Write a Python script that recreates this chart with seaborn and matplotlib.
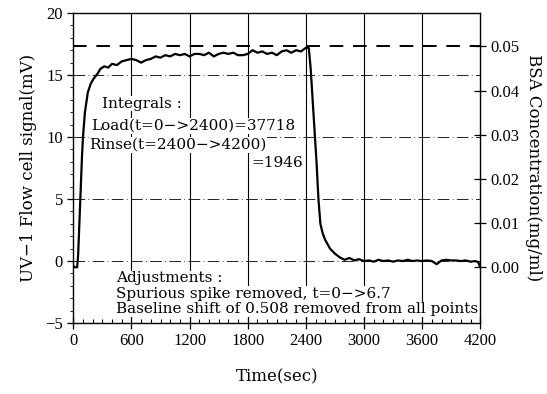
import matplotlib
matplotlib.use("Agg")
import matplotlib.pyplot as plt
import seaborn as sns
import pandas as pd
import numpy as np
from matplotlib.ticker import MultipleLocator, FormatStrFormatter

sns.set_theme(style="white")
plt.rcParams['font.family'] = ['Liberation Serif', 'DejaVu Serif']
plt.rcParams['text.color'] = 'black'
plt.rcParams['axes.labelcolor'] = 'black'
plt.rcParams['xtick.color'] = 'black'
plt.rcParams['ytick.color'] = 'black'

time_s = [0, 20, 40, 50, 60, 70, 80, 90, 100, 120, 150, 180, 210, 250, 280, 320, 360, 400,
          450, 500, 550, 600, 650, 700, 750, 800, 850, 900, 950, 1000, 1050, 1100, 1150,
          1200, 1250, 1300, 1350, 1400, 1450, 1500, 1550, 1600, 1650, 1700, 1750, 1800,
          1850, 1900, 1950, 2000, 2050, 2100, 2150, 2200, 2250, 2300, 2350, 2400, 2430,
          2450, 2470, 2490, 2510, 2530, 2550, 2575, 2600, 2650, 2700, 2750, 2800, 2850,
          2900, 2950, 3000, 3050, 3100, 3150, 3200, 3250, 3300, 3350, 3400, 3450, 3500,
          3550, 3600, 3650, 3700, 3750, 3800, 3850, 3900, 3950, 4000, 4050, 4100, 4150,
          4180, 4200]
signal_mv = [-0.4, -0.5, -0.5, 0.5, 2.5, 4.5, 6.5, 8.5, 10.0, 12.0, 13.6, 14.3, 14.7, 15.1,
             15.5, 15.7, 15.6, 15.9, 15.8, 16.1, 16.2, 16.3, 16.2, 16.0, 16.2, 16.3, 16.5,
             16.4, 16.6, 16.5, 16.7, 16.6, 16.7, 16.5, 16.7, 16.7, 16.6, 16.8, 16.5, 16.7,
             16.8, 16.7, 16.8, 16.6, 16.6, 16.7, 17.0, 16.8, 16.9, 16.7, 16.8, 16.6, 16.9,
             17.0, 16.8, 17.0, 16.9, 17.2, 17.2, 15.5, 13.0, 10.5, 8.0, 5.0, 3.0, 2.2, 1.7,
             1.0, 0.6, 0.3, 0.1, 0.25, 0.05, 0.15, 0.0, 0.05, -0.05, 0.1, 0.0, 0.05, -0.05,
             0.05, 0.0, 0.1, 0.0, 0.05, 0.0, 0.05, 0.0, -0.25, 0.05, 0.1, 0.05, 0.05, 0.0,
             0.05, -0.05, 0.0, -0.1, -0.5]
full_load_mv = 17.3
conc_zero_mv = -0.5
conc_full = 0.05
x_ticks = [0, 600, 1200, 1800, 2400, 3000, 3600, 4200]
y_ticks = [-5, 0, 5, 10, 15, 20]
conc_ticks = [0.00, 0.01, 0.02, 0.03, 0.04, 0.05]

df = pd.DataFrame({"t": time_s, "mv": signal_mv})

fig = plt.figure(figsize=(5.47, 3.94), dpi=100)
ax = fig.add_axes([0.134, 0.180, 0.744, 0.787])
ax.set_facecolor("white")

# grid lines
for yv in [0, 5, 10, 15]:
    ax.axhline(yv, color="black", lw=0.6, ls=(0, (14, 4, 1, 4)), zorder=1)
for xv in x_ticks[1:-1]:
    ax.axvline(xv, color="black", lw=0.8, zorder=1)

ax.axhline(full_load_mv, color="black", lw=1.4, ls=(0, (7, 5)), zorder=2)

sns.lineplot(data=df, x="t", y="mv", ax=ax, color="black", lw=1.6, zorder=3)

ax.set_xlim(0, 4200)
ax.set_ylim(-5, 20)
ax.set_xticks(x_ticks)
ax.set_yticks(y_ticks)
ax.xaxis.set_minor_locator(MultipleLocator(100))
ax.yaxis.set_minor_locator(MultipleLocator(1))
ax.tick_params(axis="x", which="major", direction="inout", length=8, width=0.9,
               labelsize=12, pad=3, bottom=True)
ax.tick_params(axis="x", which="minor", direction="in", length=3, width=0.8, bottom=True)
ax.tick_params(axis="y", which="major", direction="out", length=4, width=0.9,
               labelsize=12, left=True)
ax.tick_params(axis="y", which="minor", direction="out", length=2, width=0.6, left=True)
for s in ax.spines.values():
    s.set_color("black")
    s.set_linewidth(1.0)

lab_font = dict(fontsize=12, family=["DejaVu Serif"], color="black")
ax.set_xlabel("Time(sec)", labelpad=14, **lab_font)
ax.set_ylabel("UV\u22121 Flow cell signal(mV)", labelpad=6, **lab_font)

# right axis: concentration
ax2 = ax.twinx()
scale = (full_load_mv - conc_zero_mv) / conc_full
ax2.set_ylim((-5 - conc_zero_mv) / scale, (20 - conc_zero_mv) / scale)
ax2.set_yticks(conc_ticks)
ax2.yaxis.set_major_formatter(FormatStrFormatter("%.2f"))
ax2.tick_params(axis="y", direction="inout", length=8, width=0.9, labelsize=12, right=True)
ax2.grid(False)
for s in ax2.spines.values():
    s.set_visible(False)
ax2.set_ylabel("BSA Concentration(mg/ml)", rotation=-90, labelpad=16, **lab_font)

bbox = dict(facecolor="white", edgecolor="none", pad=0.5)
tf = dict(fontsize=11, family=["DejaVu Serif"], color="black", va="center", bbox=bbox,
          zorder=4)
ax.text(300, 12.7, "Integrals :", ha="left", **tf)
ax.text(180, 10.9, "Load(t=0\u2212>2400)=37718", ha="left", **tf)
ax.text(165, 9.35, "Rinse(t=2400\u2212>4200)", ha="left", **tf)
ax.text(2370, 7.9, "=1946", ha="right", **tf)
ax.text(440, -1.4, "Adjustments :", ha="left", **tf)
ax.text(440, -2.65, "Spurious spike removed, t=0\u2212>6.7", ha="left", **tf)
ax.text(440, -3.9, "Baseline shift of 0.508 removed from all points", ha="left", **tf)

fig.savefig("out.png", dpi=100)
